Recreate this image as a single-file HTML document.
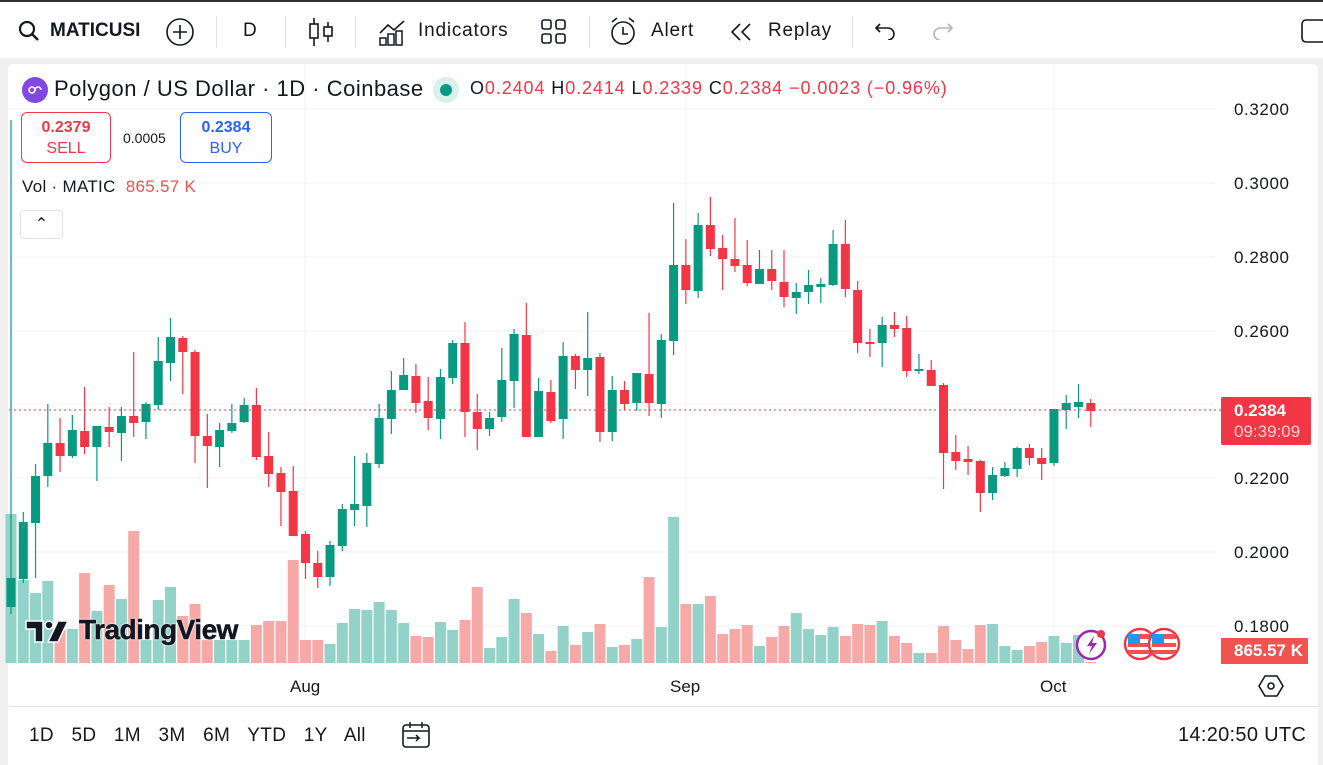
<!DOCTYPE html>
<html><head><meta charset="utf-8"><style>
*{margin:0;padding:0;box-sizing:border-box}
body{width:1323px;height:765px;overflow:hidden;background:#f0f0f0;font-family:"Liberation Sans","DejaVu Sans",sans-serif;position:relative;color:#131722}
.tb{position:absolute;left:0;top:0;width:1323px;height:58px;background:#fff;border-top:2px solid #333}
.tb span{position:absolute;top:18px;font-size:19px;letter-spacing:0.4px}
.sep{position:absolute;top:14px;width:1px;height:32px;background:#e0e3eb}
.panel{position:absolute;left:8px;top:64px;width:1310px;height:701px;background:#fff;border-radius:6px 6px 0 0}
.abs{position:absolute}
</style></head><body>
<div class="tb">
<svg class="abs" style="left:18px;top:18px" width="22" height="22"><circle cx="9" cy="9" r="7" stroke="#131722" stroke-width="2.2" fill="none"/><line x1="14" y1="14" x2="20" y2="20" stroke="#131722" stroke-width="2.4"/></svg>
<span style="left:50px;font-weight:bold;font-size:19px;letter-spacing:0">MATICUSI</span>
<svg class="abs" style="left:165px;top:15px" width="32" height="32"><circle cx="15" cy="15" r="13" stroke="#131722" stroke-width="1.6" fill="none"/><path d="M15 8v14M8 15h14" stroke="#131722" stroke-width="1.6"/></svg>
<div class="sep" style="left:216px"></div>
<span style="left:243px">D</span>
<div class="sep" style="left:285px"></div>
<svg class="abs" style="left:308px;top:14px" width="26" height="32"><path d="M6 2v28M20 6v20" stroke="#131722" stroke-width="1.6"/><rect x="2" y="8" width="8" height="14" fill="#fff" stroke="#131722" stroke-width="1.6"/><rect x="16" y="11" width="8" height="9" fill="#fff" stroke="#131722" stroke-width="1.6"/></svg>
<div class="sep" style="left:355px"></div>
<svg class="abs" style="left:378px;top:15px" width="28" height="30"><path d="M2 16l8-8 6 5 10-9" stroke="#131722" stroke-width="1.6" fill="none"/><rect x="2" y="21" width="6" height="7" fill="none" stroke="#131722" stroke-width="1.5"/><rect x="10" y="17" width="6" height="11" fill="none" stroke="#131722" stroke-width="1.5"/><rect x="18" y="14" width="6" height="14" fill="none" stroke="#131722" stroke-width="1.5"/></svg>
<span style="left:418px;letter-spacing:0.8px">Indicators</span>
<svg class="abs" style="left:541px;top:17px" width="26" height="26"><rect x="1" y="1" width="9" height="9" rx="2" fill="none" stroke="#131722" stroke-width="1.6"/><rect x="15" y="1" width="9" height="9" rx="2" fill="none" stroke="#131722" stroke-width="1.6"/><rect x="1" y="15" width="9" height="9" rx="2" fill="none" stroke="#131722" stroke-width="1.6"/><rect x="15" y="15" width="9" height="9" rx="2" fill="none" stroke="#131722" stroke-width="1.6"/></svg>
<div class="sep" style="left:589px"></div>
<svg class="abs" style="left:608px;top:14px" width="32" height="32"><circle cx="15" cy="17" r="11" fill="none" stroke="#131722" stroke-width="1.6"/><path d="M15 11v7h5M4 6l5-4M26 6l-5-4" stroke="#131722" stroke-width="1.6" fill="none"/></svg>
<span style="left:651px;letter-spacing:0.8px">Alert</span>
<svg class="abs" style="left:729px;top:20px" width="26" height="20"><path d="M11 2L3 10l8 8M21 2l-8 8 8 8" stroke="#131722" stroke-width="1.6" fill="none"/></svg>
<span style="left:768px;letter-spacing:0.8px">Replay</span>
<div class="sep" style="left:852px"></div>
<svg class="abs" style="left:874px;top:20px" width="24" height="18"><path d="M6 2L2 6l4 4M2 6h12a6 6 0 010 12" stroke="#131722" stroke-width="1.6" fill="none"/></svg>
<svg class="abs" style="left:930px;top:20px" width="24" height="18"><path d="M18 2l4 4-4 4M22 6H10a6 6 0 000 12" stroke="#b2b5be" stroke-width="1.6" fill="none"/></svg>
<svg class="abs" style="left:1300px;top:16px" width="23" height="26"><rect x="2" y="2" width="24" height="22" rx="4" fill="none" stroke="#131722" stroke-width="1.6"/></svg>
</div>
<div class="panel"></div>
<svg class="abs" style="left:0;top:0" width="1323" height="765" id="ch"></svg>
<div class="abs" style="left:22px;top:77px;width:26px;height:26px;border-radius:50%;background:#8247e5"></div>
<svg class="abs" style="left:26px;top:84px" width="18" height="12"><path d="M3 6a3 3 0 106 0a3 3 0 116 0M9 6a3 3 0 10-6 0" stroke="#fff" stroke-width="1.6" fill="none"/></svg>
<div class="abs" style="left:54px;top:76px;font-size:22px;letter-spacing:0.5px;white-space:nowrap">Polygon / US Dollar · 1D · Coinbase</div>
<div class="abs" style="left:433px;top:77px;width:26px;height:26px;border-radius:50%;background:#d9f0ec"></div>
<div class="abs" style="left:440px;top:84px;width:12px;height:12px;border-radius:50%;background:#089981"></div>
<div class="abs" style="left:470px;top:78px;font-size:18px;letter-spacing:0.9px;white-space:nowrap;color:#131722">O<span style="color:#f23645">0.2404</span> H<span style="color:#f23645">0.2414</span> L<span style="color:#f23645">0.2339</span> C<span style="color:#f23645">0.2384</span> <span style="color:#f23645">−0.0023 (−0.96%)</span></div>
<div class="abs" style="left:21px;top:112px;width:90px;height:51px;border:1px solid #f23645;border-radius:6px;color:#f23645;text-align:center;font-size:16px;line-height:21px;padding-top:4px"><b>0.2379</b><br>SELL</div>
<div class="abs" style="left:123px;top:130px;font-size:14px">0.0005</div>
<div class="abs" style="left:180px;top:112px;width:92px;height:51px;border:1px solid #2962ff;border-radius:6px;color:#2962ff;text-align:center;font-size:16px;line-height:21px;padding-top:4px"><b>0.2384</b><br>BUY</div>
<div class="abs" style="left:22px;top:177px;font-size:17px;white-space:nowrap;letter-spacing:0.3px">Vol · MATIC &nbsp;<span style="color:#f05350">865.57 K</span></div>
<div class="abs" style="left:20px;top:210px;width:43px;height:29px;border:1px solid #e0e3eb;border-radius:4px;text-align:center;font-size:16px;line-height:28px">⌃</div>
<svg class="abs" style="left:24px;top:618px" width="50" height="28"><path d="M2 3h17v21h-8V11H2z" fill="#131722" stroke="#fff" stroke-width="1.5"/><circle cx="25" cy="7" r="4" fill="#131722" stroke="#fff" stroke-width="1.5"/><path d="M34 3h10l-10 21h-10z" fill="#131722" stroke="#fff" stroke-width="1.5"/></svg>
<div class="abs" style="left:79px;top:614px;font-size:28px;font-weight:bold;letter-spacing:-0.5px;color:#131722;white-space:nowrap;-webkit-text-stroke:0.5px #131722;text-shadow:0 0 2px #fff,0 0 2px #fff">TradingView</div>
<div class="abs" style="left:1221px;top:397px;width:90px;height:48px;background:#f23645;border-radius:2px;color:#fff;font-size:17px;padding:3px 0 0 13px;line-height:21px"><b>0.2384</b><br><span style="color:#fbd0d4">09:39:09</span></div>
<div class="abs" style="left:1221px;top:638px;width:87px;height:26px;background:#f05350;color:#fff;font-size:17px;font-weight:bold;padding:3px 0 0 13px">865.57 K</div>
<div class="abs" style="left:1178px;top:724px;font-size:20px;letter-spacing:0.3px">14:20:50 UTC</div>
<div class="abs" style="left:29px;top:725px;font-size:19px;word-spacing:12px;letter-spacing:0.3px;white-space:nowrap">1D 5D 1M 3M 6M YTD 1Y All</div>
<svg class="abs" style="left:401px;top:720px" width="30" height="30"><rect x="2" y="5" width="26" height="22" rx="3" fill="none" stroke="#131722" stroke-width="1.6"/><path d="M2 11h26M9 2v6M21 2v6M6 18h12l-3-3M18 18l-3 3" stroke="#131722" stroke-width="1.5" fill="none"/></svg>
<svg class="abs" style="left:1258px;top:674px" width="26" height="24"><path d="M7 2h12l6 10-6 10H7L1 12z" fill="none" stroke="#131722" stroke-width="1.6"/><circle cx="13" cy="12" r="3" fill="none" stroke="#131722" stroke-width="1.6"/></svg>
<script>
var C=[[607,578,120,614],[579,522,512,583],[523,476,464,578],[476,443,404,487],[443,456,418,472],[456,430,415,458],[431,447,387,454],[447,426,426,481],[427,432,407,447],[433,416,407,461],[416,423,352,437],[422,404,402,439],[405,361,337,410],[363,337,318,381],[338,352,336,394],[352,436,350,463],[436,446,414,488],[447,430,423,467],[431,423,404,433],[422,405,398,423],[405,457,388,460],[456,474,432,487],[473,492,467,526],[491,536,466,536],[534,563,531,579],[563,577,551,588],[577,545,541,586],[546,509,504,551],[510,504,456,526],[506,463,453,527],[464,418,404,468],[419,390,371,434],[390,375,358,390],[376,403,364,413],[401,418,377,430],[419,377,369,439],[378,343,340,384],[343,412,322,437],[412,429,394,450],[429,418,412,436],[417,380,348,422],[381,334,329,408],[335,437,303,437],[437,391,378,437],[392,421,380,423],[419,356,342,439],[356,370,354,389],[370,358,312,396],[357,432,353,442],[432,390,376,441],[390,404,381,410],[403,373,373,411],[374,403,313,416],[404,340,334,418],[341,265,203,355],[265,290,239,304],[291,225,213,298],[225,249,197,256],[248,259,235,290],[259,266,218,272],[265,283,240,286],[284,269,250,284],[269,281,250,290],[282,297,250,307],[298,292,283,314],[292,285,270,304],[287,284,278,303],[285,244,230,286],[244,289,220,297],[290,343,281,353],[342,344,329,357],[343,325,317,367],[325,329,312,337],[328,371,316,377],[371,369,354,374],[370,386,360,386],[385,453,383,489],[452,461,435,470],[459,462,446,475],[461,493,460,512],[493,475,467,500],[476,468,462,477],[469,448,447,477],[448,458,444,465],[458,464,448,480],[463,409,409,466],[410,403,395,429],[407,402,384,418],[403,411,399,427]];
var V=[514,580,593,581,630,629,573,611,585,599,531,640,600,587,616,604,640,640,640,640,625,621,621,560,640,640,644,623,609,610,602,610,623,636,637,622,630,620,587,648,637,599,613,634,651,626,645,632,624,647,645,639,577,627,517,604,604,596,634,629,625,646,637,626,613,629,635,627,636,624,625,621,636,643,653,653,626,640,649,625,624,646,650,646,642,636,643,635,662];
var s='',G='#089981',R='#f23645';
[109,183,257,331,404,478,552,626].forEach(function(y){s+='<line x1="9" x2="1215" y1="'+y+'" y2="'+y+'" stroke="#f0f1f3" stroke-width="1"/>'});
[305,686,1054].forEach(function(x){s+='<line x1="'+x+'" x2="'+x+'" y1="64" y2="663" stroke="#f0f1f3"/>'});
s+='<line x1="9" x2="1318" y1="706.5" y2="706.5" stroke="#e0e3eb"/>';
for(var i=0;i<89;i++){var x=11+12.27*i,c=C[i],up=c[1]<c[0];var vc=up?'#92d2c8':'#f7a9a7';
s+='<rect x="'+(x-5.5)+'" y="'+V[i]+'" width="11" height="'+(663-V[i])+'" fill="'+vc+'"/>';}
for(var i=0;i<89;i++){var x=11+12.27*i,c=C[i],up=c[1]<c[0],col=up?G:R;var t=Math.min(c[0],c[1]),b=Math.max(c[0],c[1]);
s+='<line x1="'+x+'" x2="'+x+'" y1="'+c[2]+'" y2="'+c[3]+'" stroke="'+col+'" stroke-width="1.2"/>';
s+='<rect x="'+(x-4.5)+'" y="'+t+'" width="9" height="'+Math.max(b-t,2)+'" fill="'+col+'"/>';}
s+='<line x1="9" x2="1221" y1="410" y2="410" stroke="#f23645" stroke-dasharray="2 3"/>';
var L=[[109,'0.3200'],[183,'0.3000'],[257,'0.2800'],[331,'0.2600'],[478,'0.2200'],[552,'0.2000'],[626,'0.1800']];
L.forEach(function(l){s+='<text x="1234" y="'+(l[0]+6)+'" font-size="17" letter-spacing="0.6" fill="#131722" font-family="Liberation Sans,sans-serif">'+l[1]+'</text>'});
[[290,'Aug'],[670,'Sep'],[1040,'Oct']].forEach(function(l){s+='<text x="'+l[0]+'" y="692" font-size="17" fill="#131722" font-family="Liberation Sans,sans-serif">'+l[1]+'</text>'});
s+='<circle cx="1091" cy="645" r="14" fill="#fff" stroke="#9c27b0" stroke-width="2.5"/><path d="M1094 636l-7 10h5l-3 8 8-11h-5z" fill="#9c27b0"/><circle cx="1101" cy="634" r="4" fill="#f23645"/>';
[1140,1164].forEach(function(x){s+='<circle cx="'+x+'" cy="644" r="15" fill="#fff" stroke="#f23645" stroke-width="2.5"/><rect x="'+(x-12)+'" y="634" width="24" height="20" fill="#ef5350"/><rect x="'+(x-12)+'" y="639" width="24" height="4" fill="#fff"/><rect x="'+(x-12)+'" y="647" width="24" height="3" fill="#fff"/><rect x="'+(x-12)+'" y="634" width="12" height="10" fill="#2196f3"/>'});
document.getElementById('ch').innerHTML=s;
</script>
</body></html>
